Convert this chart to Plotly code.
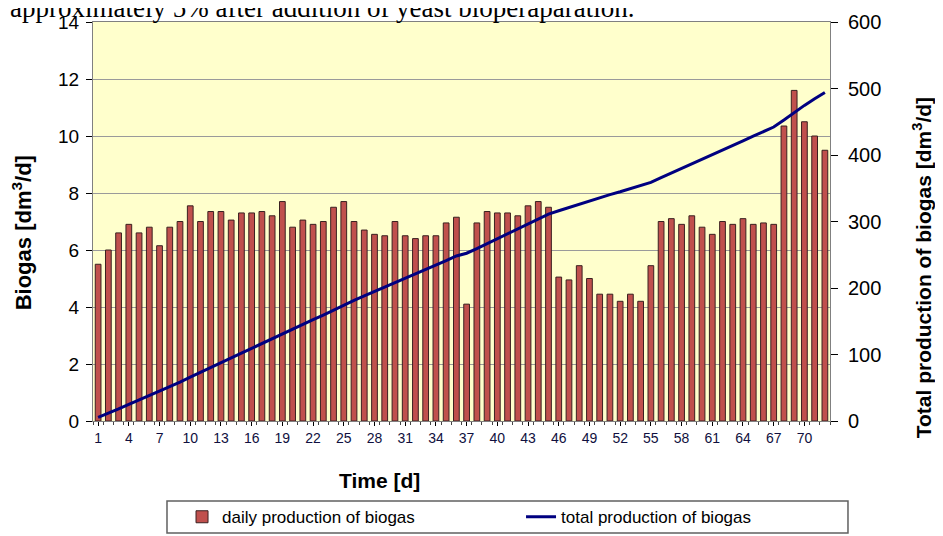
import plotly.graph_objects as go

days = list(range(1, 73))
daily = [5.5, 6.0, 6.6, 6.9, 6.6, 6.8, 6.15, 6.8, 7.0, 7.55,
         7.0, 7.35, 7.35, 7.05, 7.3, 7.3, 7.35, 7.2, 7.7, 6.8,
         7.05, 6.9, 7.0, 7.5, 7.7, 7.0, 6.7, 6.55, 6.5, 7.0,
         6.5, 6.4, 6.5, 6.5, 6.95, 7.15, 4.1, 6.95, 7.35, 7.3,
         7.3, 7.2, 7.55, 7.7, 7.5, 5.05, 4.95, 5.45, 5.0, 4.45,
         4.45, 4.2, 4.45, 4.2, 5.45, 7.0, 7.1, 6.9, 7.2, 6.8,
         6.55, 7.0, 6.9, 7.1, 6.9, 6.95, 6.9, 10.35, 11.6, 10.5,
         10.0, 9.5]
total = [5.5, 11.5, 18.1, 25.0, 31.6, 38.4, 44.6, 51.4, 58.4, 65.9,
         72.9, 80.3, 87.6, 94.7, 102.0, 109.3, 116.6, 123.8, 131.5, 138.3,
         145.4, 152.3, 159.3, 166.8, 174.5, 181.5, 188.2, 194.7, 201.2, 208.2,
         214.7, 221.1, 227.6, 234.1, 241.1, 248.2, 252.3, 259.3, 266.6, 273.9,
         281.2, 288.4, 296.0, 303.7, 311.2, 316.2, 321.2, 326.6, 331.6, 336.1,
         340.5, 344.7, 349.2, 353.4, 358.8, 365.8, 372.9, 379.8, 387.0, 393.8,
         400.4, 407.4, 414.3, 421.4, 428.3, 435.2, 442.1, 452.5, 464.1, 474.6,
         484.6, 494.1]
left_ticks = [0, 2, 4, 6, 8, 10, 12, 14]
right_ticks = [0, 100, 200, 300, 400, 500, 600]
x_ticks = list(range(1, 73, 3))

FONT = "Liberation Sans, Arial, sans-serif"

fig = go.Figure()
fig.add_trace(go.Bar(
    x=days, y=daily, name="daily production of biogas",
    width=0.56,
    marker=dict(color="#C0504D", line=dict(color="#3a2020", width=1)),
))
fig.add_trace(go.Scatter(
    x=days, y=total, name="total production of biogas", yaxis="y2",
    mode="lines", line=dict(color="#000080", width=3),
))

fig.update_layout(
    width=935, height=528,
    margin=dict(l=85, r=113, t=14, b=115, autoexpand=False),
    paper_bgcolor="white",
    plot_bgcolor="#FFFFCC",
    font=dict(family=FONT, color="black", size=16),
    showlegend=True,
    xaxis=dict(
        range=[0.5, 72.5], tickmode="array", tickvals=x_ticks,
        ticktext=[str(v) for v in x_ticks],
        tickfont=dict(size=14, color="#101040"),
        ticks="outside", ticklen=4, tickcolor="black",
        minor=dict(dtick=1, tick0=0.5, ticks="outside", ticklen=3, tickcolor="#444"),
        showgrid=False, zeroline=False, automargin=False,
        showline=True, linecolor="#808080", linewidth=1, mirror=True,
    ),
    yaxis=dict(
        range=[0, 14], tickmode="array", tickvals=left_ticks,
        ticks="outside", ticklen=6, tickcolor="black",
        showgrid=True, gridcolor="#9a9a9a", gridwidth=1,
        zeroline=False, automargin=False,
        showline=True, linecolor="#808080", linewidth=1,
        tickfont=dict(size=19), ticklabelstandoff=3,
    ),
    yaxis2=dict(
        range=[0, 600], tickmode="array", tickvals=right_ticks,
        overlaying="y", side="right",
        ticks="outside", ticklen=7, tickcolor="black",
        showgrid=False, zeroline=False, automargin=False,
        showline=True, linecolor="#808080", linewidth=1,
        tickfont=dict(size=20), ticklabelstandoff=6,
    ),
    legend=dict(
        orientation="h", x=0.1208, xanchor="left", y=-0.196, yanchor="top",
        borderwidth=0, bgcolor="rgba(0,0,0,0)",
        font=dict(size=17), entrywidth=294, entrywidthmode="pixels",
        traceorder="normal",
    ),
    shapes=[dict(
        type="rect", xref="paper", yref="paper",
        x0=0.1004, x1=1.0244, y0=-0.2807, y1=-0.2005,
        line=dict(color="#606060", width=1.5), fillcolor="rgba(0,0,0,0)",
        layer="below",
    )],
    annotations=[
        dict(text="approximately 5% after addition of yeast bioperaparation.",
             xref="paper", yref="paper", x=-0.1155, y=0.9925,
             xanchor="left", yanchor="bottom", showarrow=False,
             font=dict(family="Liberation Serif, Times New Roman, serif", size=27, color="black")),
        dict(text="<b>Biogas [dm<sup>3</sup>/d]</b>", textangle=-90,
             xref="paper", yref="paper", x=-0.096, y=0.471,
             xanchor="center", yanchor="middle", showarrow=False,
             font=dict(size=22, color="black")),
        dict(text="<b>Total production of biogas [dm<sup>3</sup>/d]</b>", textangle=-90,
             xref="paper", yref="paper", x=1.125, y=0.383,
             xanchor="center", yanchor="middle", showarrow=False,
             font=dict(size=21, color="black")),
        dict(text="<b>Time [d]</b>",
             xref="paper", yref="paper", x=0.389, y=-0.148,
             xanchor="center", yanchor="middle", showarrow=False,
             font=dict(size=21, color="black")),
    ],
)

fig.write_html("out.html")
